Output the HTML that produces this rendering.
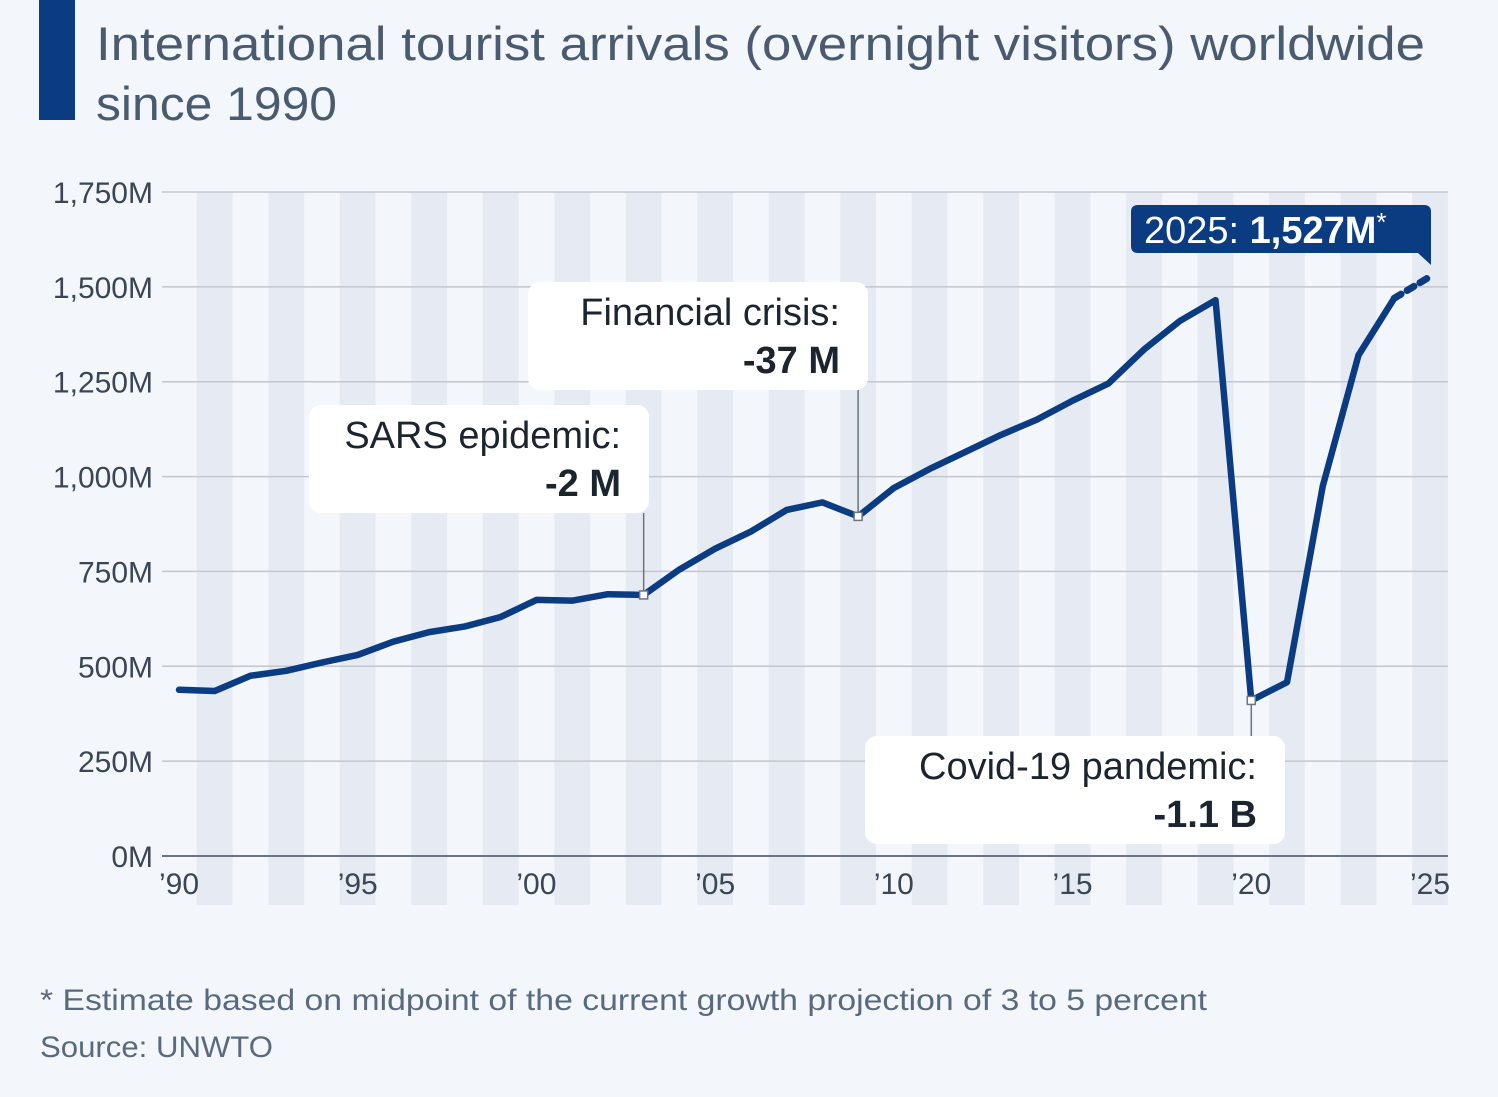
<!DOCTYPE html>
<html><head><meta charset="utf-8"><style>
body{margin:0;background:#f3f6fa;width:1498px;height:1092px;overflow:hidden;font-family:"Liberation Sans",sans-serif}
</style></head><body>
<svg width="1498" height="1092" xmlns="http://www.w3.org/2000/svg">
<rect x="39" y="0" width="36" height="120" fill="#0b3b80"/>
<text x="96" y="60" font-size="47" fill="#4a5b70" textLength="1329" lengthAdjust="spacingAndGlyphs">International tourist arrivals (overnight visitors) worldwide</text>
<text x="96" y="120" font-size="47" fill="#4a5b70" textLength="241" lengthAdjust="spacingAndGlyphs">since 1990</text>
<g id="bands"></g><g id="grid"></g><g id="line"></g><g id="ann"></g>
<text x="40" y="1010" font-size="30" fill="#5a6a7e" textLength="1167" lengthAdjust="spacingAndGlyphs">* Estimate based on midpoint of the current growth projection of 3 to 5 percent</text>
<text x="40" y="1057" font-size="30" fill="#5a6a7e" textLength="233" lengthAdjust="spacingAndGlyphs">Source: UNWTO</text>
</svg>
<script>
const years=[1990,1991,1992,1993,1994,1995,1996,1997,1998,1999,2000,2001,2002,2003,2004,2005,2006,2007,2008,2009,2010,2011,2012,2013,2014,2015,2016,2017,2018,2019,2020,2021,2022,2023,2024];
const arrivals=[438,435,475,488,510,530,565,590,605,630,675,673,690,688,755,810,855,912,932,895,970,1020,1065,1110,1150,1200,1245,1335,1410,1465,410,458,975,1320,1470];
const estimateYear=2025, estimateValue=1527;
const yTicks=[0,250,500,750,1000,1250,1500,1750];
const yTickLabels=["0M","250M","500M","750M","1,000M","1,250M","1,500M","1,750M"];
const xTicks=[1990,1995,2000,2005,2010,2015,2020,2025];
const xTickLabels=["’90","’95","’00","’05","’10","’15","’20","’25"];
const NS="http://www.w3.org/2000/svg";
const X=y=>179+(y-1990)*(1430-179)/35;
const Y=v=>856-v*(856-192)/1750;
function mk(t,a,p){const e=document.createElementNS(NS,t);for(const k in a)e.setAttribute(k,a[k]);p.appendChild(e);return e;}
const bands=document.getElementById('bands'),grid=document.getElementById('grid'),line=document.getElementById('line'),ann=document.getElementById('ann');
const w=X(1991)-X(1990);
for(let y=1991;y<=2025;y+=2){const r=mk('rect',{x:X(y)-w/2,y:192,width:w,height:713,fill:'#e6ebf3'},bands);

}
yTicks.forEach((v,i)=>{const l=mk('line',{x1:162,x2:1448,y1:Y(v),y2:Y(v),stroke:v===0?'#6b7480':'#c3c7cc','stroke-width':v===0?2:1.5},grid);


const t=mk('text',{x:153,y:Y(v)+11,'text-anchor':'end','font-size':30,fill:'#3a4656'},grid);t.textContent=yTickLabels[i];

});
xTicks.forEach((v,i)=>{const t=mk('text',{x:X(v),y:894,'text-anchor':'middle','font-size':30,fill:'#3a4656'},grid);t.textContent=xTickLabels[i];

});
const pts=years.map((y,i)=>X(y)+','+Y(arrivals[i])).join(' ');
const pl=mk('polyline',{points:pts,fill:'none',stroke:'#0b3b80','stroke-width':6.5,'stroke-linejoin':'round','stroke-linecap':'round'},line);


const n=years.length-1;
const dl=mk('line',{x1:X(years[n]),y1:Y(arrivals[n]),x2:X(estimateYear),y2:Y(estimateValue),stroke:'#0b3b80','stroke-width':7,'stroke-dasharray':'8 7','stroke-linecap':'round'},line);


function callout(year,bx,by,bw,bh,l1,l2,name){const v=arrivals[years.indexOf(year)];const px=X(year),py=Y(v);
const ln=mk('line',{x1:px,x2:px,y1:py,y2:by<py?by+bh:by,stroke:'#6b7480','stroke-width':1.5},ann);


const m=mk('rect',{x:px-4,y:py-4,width:8,height:8,fill:'#fff',stroke:'#6b7480','stroke-width':1.5},ann);


const r=mk('rect',{x:bx,y:by,width:bw,height:bh,rx:12,fill:'#fff'},ann);


const t1=mk('text',{x:bx+bw-28,y:by+43,'text-anchor':'end','font-size':38,fill:'#1c2430'},ann);t1.textContent=l1;


const t2=mk('text',{x:bx+bw-28,y:by+91,'text-anchor':'end','font-size':38,'font-weight':'bold',fill:'#1c2430'},ann);t2.textContent=l2;

}
callout(2003,309,405,340,108,'SARS epidemic:','-2 M','sars-callout');
callout(2009,528,282,340,108,'Financial crisis:','-37 M','financial-crisis-callout');
callout(2020,865,736,420,108,'Covid-19 pandemic:','-1.1 B','covid-callout');
const tb=mk('path',{d:'M1138,205 H1424 Q1431,205 1431,212 V265 L1418,253 H1138 Q1131,253 1131,246 V212 Q1131,205 1138,205Z',fill:'#0b3b80'},ann);


const tt=mk('text',{x:1144,y:243,'font-size':38,fill:'#fff'},ann);
tt.innerHTML='2025: <tspan font-weight="bold">1,527M</tspan><tspan font-size="26" dy="-12">*</tspan>';


</script>
</body></html>
